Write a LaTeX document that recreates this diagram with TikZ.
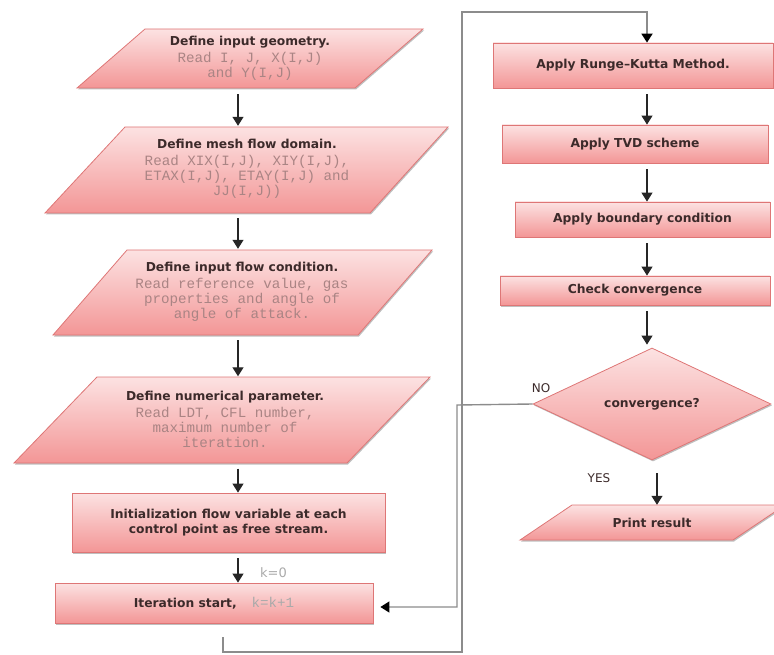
\documentclass[tikz,border=0pt]{standalone}
\usepackage{fontspec}
\setmainfont{DejaVu Sans}
\newfontfamily\monof{Liberation Mono}
\usetikzlibrary{shapes.geometric,arrows.meta,shadows}
\definecolor{fillA}{RGB}{252,226,226}
\definecolor{fillB}{RGB}{243,150,150}
\definecolor{edgeC}{RGB}{222,118,118}
\definecolor{ttlC}{RGB}{60,42,42}
\definecolor{monC}{RGB}{170,132,132}
\definecolor{kC}{RGB}{170,170,170}
\definecolor{loopC}{RGB}{140,140,140}
\newcommand\ttl{\fontsize{12.3}{15}\selectfont\bfseries\color{ttlC}}
\newcommand\mon{\monof\mdseries\fontsize{14.2}{17}\selectfont\color{monC}}
\tikzset{
  shapefill/.style={top color=fillA, bottom color=fillB, draw=edgeC, line width=0.8pt,
    drop shadow={shadow xshift=1pt, shadow yshift=-1.5pt, opacity=0.25, fill=black}},
  box/.style={shapefill, rectangle, inner sep=0pt, align=center, font=\ttl},
  txt/.style={align=center, inner sep=0pt, font=\ttl},
  arr/.style={draw=black!85, line width=1.1pt, -{Triangle[length=9pt,width=11pt]}, shorten <=6pt},
  loopline/.style={draw=loopC, line width=1.8pt, -{Triangle[length=9pt,width=11pt,color=black]}},
  noline/.style={draw=loopC, line width=1.4pt, -{Triangle[length=9pt,width=11pt,color=black]}},
  lbl/.style={inner sep=0pt, font=\fontsize{12}{14}\selectfont, text=ttlC}
}
\begin{document}
\begin{tikzpicture}[x=1pt,y=-1pt]
\useasboundingbox (0,0) rectangle (774,655);
\clip (0,0) rectangle (774,655);
% parallelograms
\path[shapefill] (145,29) -- (423,29) -- (355,88) -- (77,88) -- cycle;
\node[txt, minimum height=59pt] (p1) at (250,58.5)
  {Define input geometry.\\[2pt]{\mon Read I, J, X(I,J)}\\{\mon and Y(I,J)}};
\path[shapefill] (125,127) -- (448,127) -- (370,213) -- (45,213) -- cycle;
\node[txt, minimum height=86pt] (p2) at (247,169)
  {Define mesh flow domain.\\[2pt]{\mon Read XIX(I,J), XIY(I,J),}\\{\mon ETAX(I,J), ETAY(I,J) and}\\{\mon JJ(I,J))}};
\path[shapefill] (127,250) -- (432,250) -- (358,335) -- (53,335) -- cycle;
\node[txt, minimum height=85pt] (p3) at (242,291.5)
  {Define input flow condition.\\[2pt]{\mon Read reference value, gas}\\{\mon properties and angle of}\\{\mon angle of attack.}};
\path[shapefill] (97,377) -- (430,377) -- (347,463) -- (14,463) -- cycle;
\node[txt, minimum height=86pt] (p4) at (225,419.5)
  {Define numerical parameter.\\[2pt]{\mon Read LDT, CFL number,}\\{\mon maximum number of}\\{\mon iteration.}};
% boxes left
\node[box, minimum width=313pt, minimum height=59pt] (init) at (228.5,522.5)
  {Initialization flow variable at each\\control point as free stream.};
\node[box, minimum width=318pt, minimum height=40pt] (iter) at (214,603)
  {Iteration start,\hspace{1.2em}{\mon\color{kC}k=k+1}};
\node[lbl, text=kC, font=\fontsize{13}{15}\selectfont, anchor=west] (k0) at (260,573) {k=0};
% right column
\node[box, minimum width=280pt, minimum height=45pt] (rk) at (633,65.5) {Apply Runge--Kutta Method.};
\node[box, minimum width=266pt, minimum height=38pt] (tvd) at (635,144) {Apply TVD scheme};
\node[box, minimum width=255pt, minimum height=35pt] (bnd) at (642.5,219.5) {Apply boundary condition};
\node[box, minimum width=270pt, minimum height=29pt] (chk) at (635,290.5) {Check convergence};
\node[diamond, shapefill, minimum width=238pt, minimum height=112pt, inner sep=0pt, font=\ttl] (dia) at (652,404) {convergence?};
\path[shapefill] (572,505) -- (785,505) -- (733,540) -- (520,540) -- cycle;
\node[txt, minimum height=35pt] (pr) at (652,522.5) {Print result};
\node[lbl] (no) at (541,388) {NO};
\node[lbl] (yes) at (599,478) {YES};
% arrows
\coordinate (ax) at (238,0);
\coordinate (bx) at (647,0);
\coordinate (cx) at (657,0);
\draw[arr] (ax |- p1.south) -- (ax |- p2.north);
\draw[arr] (ax |- p2.south) -- (ax |- p3.north);
\draw[arr] (ax |- p3.south) -- (ax |- p4.north);
\draw[arr] (ax |- p4.south) -- (ax |- init.north);
\draw[arr] (ax |- init.south) -- (ax |- iter.north);
\draw[arr] (bx |- rk.south) -- (bx |- tvd.north);
\draw[arr] (bx |- tvd.south) -- (bx |- bnd.north);
\draw[arr] (bx |- bnd.south) -- (bx |- chk.north);
\draw[arr, shorten >=3pt] (bx |- chk.south) -- (bx |- dia.north);
\draw[arr, shorten <=13pt] (cx |- dia.south) -- (cx |- pr.north);
% loops
\coordinate (lA) at (223,652);
\coordinate (lB) at (462,652);
\coordinate (lC) at (462,12);
\coordinate (lD) at (647,12);
\draw[loopline, shorten <=14pt] (lA |- iter.south) -- (lA) -- (lB) -- (lC) -- (lD) -- (lD |- rk.north);
\coordinate (nA) at (457,405);
\coordinate (nB) at (457,607);
\draw[noline, shorten >=7pt] (dia.west) -- (nA) -- (nB) -- (nB -| iter.east);
\end{tikzpicture}
\end{document}
